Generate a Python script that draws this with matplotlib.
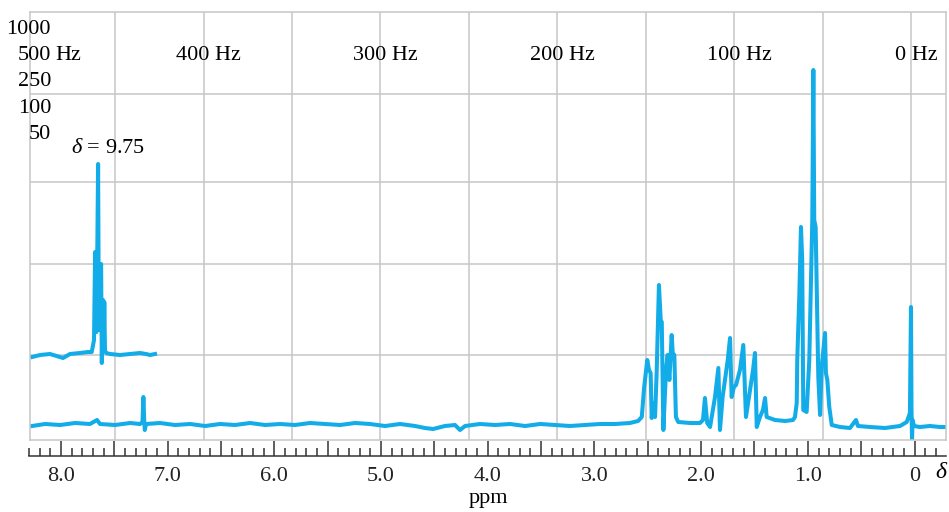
import numpy as np
import matplotlib.pyplot as plt

plt.rcParams['font.family'] = ['Liberation Serif', 'DejaVu Serif']
plt.rcParams['mathtext.fontset'] = 'custom'
plt.rcParams['mathtext.rm'] = 'Liberation Serif'
plt.rcParams['mathtext.it'] = 'Liberation Serif:italic'

# main trace (x in Hz from TMS, y in chart units)
hz_main = [496.9, 489.6, 481.1, 472.6, 464.2, 460.2, 458.5, 450.0, 441.5, 435.9,
           434.5, 434.0, 433.5, 433.2, 432.5, 424.6, 416.1, 407.6, 399.1, 390.7,
           382.2, 373.7, 365.2, 356.7, 348.3, 339.8, 331.3, 322.8, 314.3, 305.9,
           297.4, 288.9, 280.4, 274.8, 270.2, 263.5, 257.8, 255.0, 252.1, 243.7,
           235.2, 226.7, 218.2, 209.7, 201.3, 192.8, 184.3, 175.8, 167.3, 158.9,
           154.3, 152.2, 150.9, 149.1, 148.1, 147.2, 146.6, 145.7, 144.7, 143.8,
           142.5, 141.5, 140.9, 140.0, 138.5, 137.6, 136.6, 135.3, 134.7, 133.8,
           132.9, 131.6, 124.9, 119.3, 117.6, 116.5, 115.2, 113.6, 110.8, 108.9,
           108.0, 106.5, 103.6, 102.3, 101.4, 100.1, 98.9, 96.7, 94.8, 94.1,
           93.3, 91.0, 89.3, 88.2, 87.2, 85.4, 83.7, 82.5, 81.6, 76.9,
           71.2, 66.7, 65.6, 64.6, 64.3, 63.1, 62.2, 61.5, 60.9, 59.0,
           57.5, 56.5, 55.8, 55.2, 54.7, 53.9, 53.3, 52.4, 51.4, 50.5,
           48.6, 48.1, 47.3, 46.2, 44.8, 40.1, 34.5, 31.1, 30.0, 23.2,
           14.7, 6.2, 2.4, 0.6, 0.0, -0.3, -0.6, -0.9, -1.7, -5.1,
           -10.7, -16.4, -19.8]
amp_main = [14, 16, 15, 17, 16, 20, 16, 15, 17, 16,
            18, 43, 18, 10, 16, 17, 15, 16, 14, 16,
            15, 17, 15, 16, 15, 17, 16, 15, 17, 16,
            14, 16, 14, 12, 11, 14, 15, 10, 14, 16,
            15, 16, 14, 16, 15, 14, 15, 16, 16, 17,
            19, 23, 52, 80, 70, 67, 22, 37, 23, 67,
            155, 120, 118, 10, 70, 85, 60, 105, 87, 85,
            23, 18, 17, 17, 20, 42, 17, 13, 43, 72,
            10, 43, 80, 102, 43, 53, 55, 70, 95, 60,
            23, 50, 70, 87, 13, 23, 30, 42, 23, 20,
            19, 20, 23, 37, 80, 147, 213, 180, 30, 28,
            80, 160, 220, 370, 220, 213, 153, 63, 25, 73,
            107, 67, 60, 33, 15, 13, 12, 20, 14, 13,
            12, 14, 18, 27, 133, 30, 0, 20, 14, 13,
            14, 13, 13]

# offset sweep trace around the aldehyde signal
hz_offset = [496.9, 492.4, 486.8, 479.4, 475.5, 469.8, 465.3, 463.2, 461.9, 461.3,
             460.8, 460.5, 460.0, 459.6, 459.3, 459.1, 458.5, 457.9, 457.5, 457.2,
             456.8, 456.4, 456.1, 455.7, 455.1, 452.8, 447.2, 441.5, 435.9, 432.5,
             430.2, 427.4]
amp_offset = [83, 85, 86, 82, 86, 87, 88, 88, 100, 188,
              130, 108, 200, 276, 160, 110, 150, 176, 77, 120,
              140, 95, 138, 90, 87, 86, 85, 86, 87, 86,
              85, 86]

hz_labels = [400, 300, 200, 100, 0]
sweep_widths = ['1000', '500', '250', '100', '50']
ppm_labels = [8, 7, 6, 5, 4, 3, 2, 1, 0]

W, H = 949, 512
blue = '#12ACE8'
grey = '#c6c6c6'

fig = plt.figure(figsize=(W / 100, H / 100), dpi=100)
ax = fig.add_axes([30 / W, 1 - 440 / H, 916 / W, 428 / H])
ax.set_xlim(498.1, -19.8)
ax.set_ylim(0, 428)
for s in ax.spines.values():
    s.set_color(grey)
    s.set_linewidth(1.1)
ax.set_xticks([])
ax.set_yticks([])
for h in np.arange(0, 500, 50):
    ax.axvline(h, color=grey, lw=1.1, zorder=0)
for v in [85, 176, 258, 346]:
    ax.axhline(v, color=grey, lw=1.1, zorder=0)

ax.plot(hz_main, amp_main, color=blue, lw=2.9, solid_joinstyle='round')
ax.plot(hz_offset, amp_offset, color=blue, lw=2.9, solid_joinstyle='round')

fs = 16
for h in hz_labels:
    ax.text(h - 2.8, 385, f'{h} Hz', ha='center', va='center', fontsize=fs)
for lab, v in zip(sweep_widths, [411, 385, 359, 332, 306]):
    ax.text(486.2, v, lab, ha='right', va='center', fontsize=fs, clip_on=False)
ax.text(483.9, 385, 'Hz', ha='left', va='center', fontsize=fs)
ax.text(454.0, 292, r'$\delta$ = 9.75', ha='center', va='center', fontsize=fs)

# ppm scale underneath
bx = fig.add_axes([29 / W, 1 - 456 / H, 917 / W, 15 / H])
bx.patch.set_visible(False)
bx.set_xlim(8.299, -0.295)
for k in ['top', 'left', 'right']:
    bx.spines[k].set_visible(False)
bx.spines['bottom'].set_color('#333333')
bx.spines['bottom'].set_linewidth(1.1)
bx.set_yticks([])
bx.set_xticks(np.arange(0, 8.01, 0.5))
bx.set_xticks(np.arange(-0.2, 8.31, 0.1), minor=True)
bx.set_xticklabels(['0' if t == 0 else (f'{t:.1f}' if t in ppm_labels else '')
                    for t in np.arange(0, 8.01, 0.5)])
bx.tick_params(axis='x', which='major', direction='in', length=10.8, width=1.1,
               color='#333333', pad=8, labelsize=fs, labelcolor='#222222')
bx.tick_params(axis='x', which='minor', direction='in', length=5.8, width=1.1,
               color='#333333')

fig.text(942 / W, 1 - 472 / H, r'$\delta$', ha='center', va='center', fontsize=fs + 1)
fig.text(488 / W, 1 - 498 / H, 'ppm', ha='center', va='center', fontsize=fs)

fig.savefig('out.png', dpi=100)
